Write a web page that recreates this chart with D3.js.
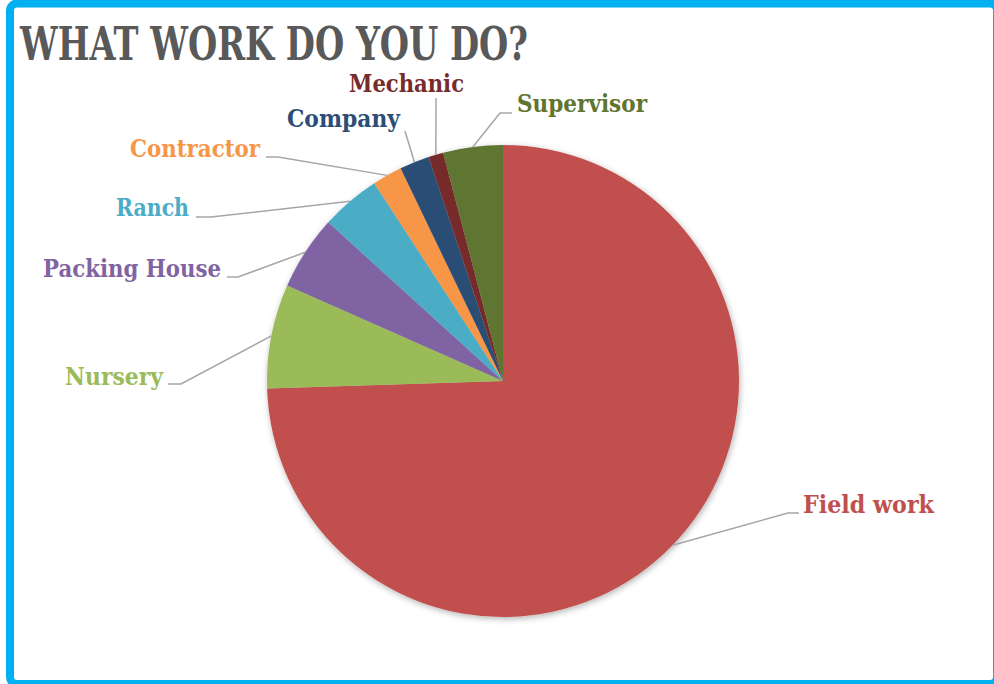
<!DOCTYPE html>
<html>
<head>
<meta charset="utf-8">
<script src="https://cdn.jsdelivr.net/npm/d3@7"></script>
<style>
  html, body { margin: 0; padding: 0; background: #fff; }
  svg { display: block; }
</style>
</head>
<body>
<svg id="chart" width="994" height="684"></svg>
<script>
// Survey answers: "What work do you do?"
const categories = ["Field work", "Nursery", "Packing House", "Ranch", "Contractor", "Company", "Mechanic", "Supervisor"];
const counts = [73, 7, 5, 4, 2, 2, 1, 4];
const sliceColors = ["#C0504D", "#9BBB59", "#8064A2", "#4BACC6", "#F79646", "#2C4D75", "#772C2A", "#5F7530"];
const titleText = "WHAT WORK DO YOU DO?";

// Label placement: text start, baseline, fitted width, and the leader's elbow/end points
const labelLayout = [
  { x: 803, y: 513, w: 131, leader: [[788, 513], [799, 513]] },
  { x: 65,  y: 385, w: 98,  leader: [[181, 384], [168, 384]] },
  { x: 43,  y: 277, w: 178, leader: [[238, 277], [227, 277]] },
  { x: 116, y: 216, w: 73,  leader: [[211, 217], [196, 217]] },
  { x: 130, y: 157, w: 130, leader: [[278, 157], [266, 157]] },
  { x: 287, y: 127, w: 113, leader: [[405, 131]] },
  { x: 349, y: 92,  w: 115, leader: [[436, 98]] },
  { x: 517, y: 112, w: 130, leader: [[500, 113], [512, 113]] }
];

const svg = d3.select("#chart");
const W = 994, H = 684;
const cx = 503, cy = 381, radius = 236;

// Soft outer shadow around the pie
const defs = svg.append("defs");
const f = defs.append("filter").attr("id", "pieShadow")
  .attr("x", "-10%").attr("y", "-10%").attr("width", "120%").attr("height", "120%");
f.append("feDropShadow").attr("dx", 1).attr("dy", 2).attr("stdDeviation", 3)
  .attr("flood-color", "#000").attr("flood-opacity", 0.3);

// Frame
svg.append("rect")
  .attr("x", 10).attr("y", 3.5)
  .attr("width", 987).attr("height", 680.5)
  .attr("rx", 7).attr("ry", 7)
  .attr("fill", "#fff")
  .attr("stroke", "#00B0F0").attr("stroke-width", 8);

// Title
svg.append("text")
  .attr("x", 20).attr("y", 60)
  .attr("textLength", 508).attr("lengthAdjust", "spacingAndGlyphs")
  .attr("font-family", "'DejaVu Serif', 'Liberation Serif', serif")
  .attr("font-weight", "bold").attr("font-size", 46)
  .attr("fill", "#595959")
  .text(titleText);

const data = categories.map((c, i) => ({ name: c, value: counts[i], color: sliceColors[i], layout: labelLayout[i] }));

const pie = d3.pie().value(d => d.value).sort(null);
const arc = d3.arc().innerRadius(0).outerRadius(radius);
const arcs = pie(data);

const g = svg.append("g").attr("transform", `translate(${cx},${cy})`);
g.append("g").attr("filter", "url(#pieShadow)")
  .selectAll("path").data(arcs).join("path")
  .attr("d", arc)
  .attr("fill", d => d.data.color);

// Leader lines from each slice edge to its label
const line = d3.line();
svg.append("g").selectAll("path").data(arcs).join("path")
  .attr("d", d => {
    const mid = (d.startAngle + d.endAngle) / 2;
    const p0 = [cx + radius * Math.sin(mid), cy - radius * Math.cos(mid)];
    return line([p0, ...d.data.layout.leader]);
  })
  .attr("fill", "none")
  .attr("stroke", "#A6A6A6")
  .attr("stroke-width", 1.5);

// Category labels
svg.append("g").selectAll("text").data(arcs).join("text")
  .attr("x", d => d.data.layout.x)
  .attr("y", d => d.data.layout.y)
  .attr("textLength", d => d.data.layout.w)
  .attr("lengthAdjust", "spacingAndGlyphs")
  .attr("font-family", "'DejaVu Serif', 'Liberation Serif', serif")
  .attr("font-weight", "bold").attr("font-size", 24)
  .attr("fill", d => d.data.color)
  .text(d => d.data.name);
</script>
</body>
</html>
